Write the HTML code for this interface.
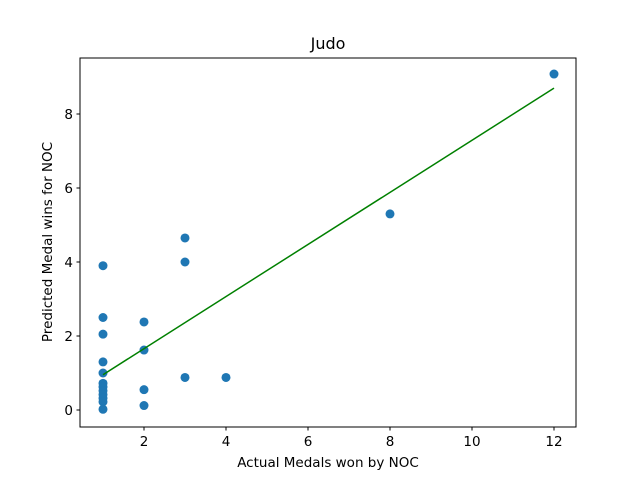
<!DOCTYPE html>
<html><head><meta charset="utf-8"><style>body{margin:0;background:#fff}svg{display:block;font-family:"DejaVu Sans","Liberation Sans",sans-serif}</style></head>
<body>
<svg id="c" width="640" height="480" xmlns="http://www.w3.org/2000/svg"></svg>
<script>
const actual=[1,1,1,1,1,1,1,1,1,1,1,1,2,2,2,2,3,3,3,4,8,12];
const predicted=[3.9,2.5,2.05,1.3,1.0,0.72,0.62,0.52,0.42,0.32,0.22,0.02,2.38,1.62,0.55,0.12,4.65,4.0,0.88,0.88,5.3,9.08];
const fitIntercept=0.25, fitSlope=0.704;
const xTicks=[2,4,6,8,10,12];
const yTicks=[0,2,4,6,8];
const NS="http://www.w3.org/2000/svg",svg=document.getElementById('c');
const X=v=>62+41*v, Y=v=>410-37*v;
function el(t,a,p){const e=document.createElementNS(NS,t);for(const k in a)e.setAttribute(k,a[k]);(p||svg).appendChild(e);return e;}
let r=el('rect',{x:80,y:58,width:496,height:369,fill:'none',stroke:'#000','stroke-width':1});


xTicks.forEach(t=>{const g=el('g',{});


el('line',{x1:X(t),x2:X(t),y1:427,y2:430.5,stroke:'#000'},g);
const tx=el('text',{x:X(t),y:446,'font-size':13.5,'text-anchor':'middle'},g);tx.textContent=t;});
yTicks.forEach(t=>{const g=el('g',{});


el('line',{x1:76.5,x2:80,y1:Y(t),y2:Y(t),stroke:'#000'},g);
const tx=el('text',{x:73,y:Y(t)+5,'font-size':13.5,'text-anchor':'end'},g);tx.textContent=t;});
actual.forEach((a,i)=>{const c=el('circle',{cx:X(a),cy:Y(predicted[i]),r:4.5,fill:'#1f77b4'});

});
const mn=Math.min(...actual),mx=Math.max(...actual);
const ln=el('line',{x1:X(mn),y1:Y(fitIntercept+fitSlope*mn),x2:X(mx),y2:Y(fitIntercept+fitSlope*mx),stroke:'green','stroke-width':1.5});


let t=el('text',{x:328,y:49,'font-size':16,'text-anchor':'middle'});t.textContent='Judo';


t=el('text',{x:328,y:467,'font-size':13.5,'text-anchor':'middle'});t.textContent='Actual Medals won by NOC';


t=el('text',{x:52,y:242,'font-size':13.5,'text-anchor':'middle',transform:'rotate(-90 52 242)'});t.textContent='Predicted Medal wins for NOC';


</script>
</body></html>
